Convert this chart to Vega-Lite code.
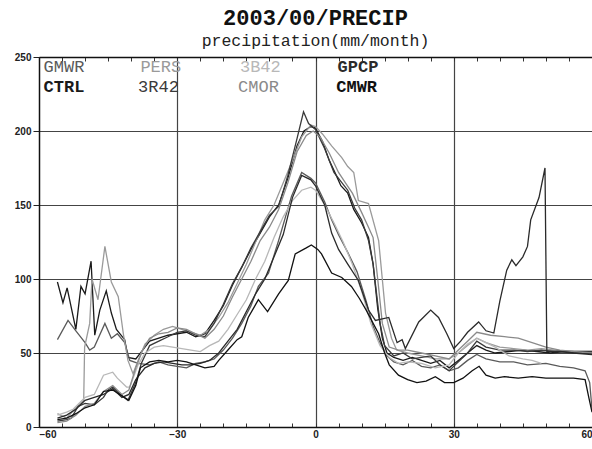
{
"$schema":"https://vega.github.io/schema/vega-lite/v6.json",
"width":553,"height":370,
"autosize":{"type":"none"},
"padding":{"left":39,"top":57,"right":0,"bottom":22},
"background":"white",
"title":{"text":"2003/00/PRECIP","subtitle":"precipitation(mm/month)","font":"Liberation Mono","fontSize":22,"fontWeight":"bold","color":"#111","subtitleFont":"Liberation Mono","subtitleFontSize":16.5,"subtitleColor":"#222","anchor":"middle","offset":2,"subtitlePadding":3},
"config":{"view":{"stroke":null}},
"datasets":{
"lines":[
{"s":"CTRL","x":-56,"y":98},{"s":"CTRL","x":-54.8,"y":84},{"s":"CTRL","x":-53.9,"y":94},{"s":"CTRL","x":-52,"y":66},{"s":"CTRL","x":-50.9,"y":95},{"s":"CTRL","x":-50,"y":90},{"s":"CTRL","x":-48.7,"y":112},{"s":"CTRL","x":-47.9,"y":62},{"s":"CTRL","x":-46.8,"y":79},{"s":"CTRL","x":-45.4,"y":92},{"s":"CTRL","x":-44.3,"y":77},{"s":"CTRL","x":-43.2,"y":66},{"s":"CTRL","x":-41.4,"y":59},{"s":"CTRL","x":-40.7,"y":47},{"s":"CTRL","x":-39,"y":46},{"s":"CTRL","x":-37.5,"y":52},{"s":"CTRL","x":-36,"y":58},{"s":"CTRL","x":-34,"y":60},{"s":"CTRL","x":-32,"y":62},{"s":"CTRL","x":-30,"y":63},{"s":"CTRL","x":-28,"y":64},{"s":"CTRL","x":-26,"y":61},{"s":"CTRL","x":-24,"y":63},{"s":"CTRL","x":-22,"y":72},{"s":"CTRL","x":-20,"y":82},{"s":"CTRL","x":-18,"y":96},{"s":"CTRL","x":-16,"y":108},{"s":"CTRL","x":-14,"y":120},{"s":"CTRL","x":-12,"y":131},{"s":"CTRL","x":-10,"y":142},{"s":"CTRL","x":-8,"y":150},{"s":"CTRL","x":-6,"y":168},{"s":"CTRL","x":-4,"y":190},{"s":"CTRL","x":-2.5,"y":200},{"s":"CTRL","x":-1,"y":203},{"s":"CTRL","x":0,"y":202},{"s":"CTRL","x":1.5,"y":193},{"s":"CTRL","x":3,"y":180},{"s":"CTRL","x":4.5,"y":170},{"s":"CTRL","x":5.5,"y":163},{"s":"CTRL","x":7,"y":158},{"s":"CTRL","x":8.3,"y":147},{"s":"CTRL","x":10,"y":138},{"s":"CTRL","x":11.5,"y":128},{"s":"CTRL","x":12.5,"y":110},{"s":"CTRL","x":13.5,"y":80},{"s":"CTRL","x":14.5,"y":60},{"s":"CTRL","x":15.5,"y":50},{"s":"CTRL","x":17,"y":47},{"s":"CTRL","x":19,"y":45},{"s":"CTRL","x":21,"y":47},{"s":"CTRL","x":23,"y":45},{"s":"CTRL","x":25,"y":43},{"s":"CTRL","x":27,"y":45},{"s":"CTRL","x":29,"y":40},{"s":"CTRL","x":31,"y":45},{"s":"CTRL","x":33,"y":50},{"s":"CTRL","x":35,"y":55},{"s":"CTRL","x":37,"y":52},{"s":"CTRL","x":39,"y":50},{"s":"CTRL","x":42,"y":51},{"s":"CTRL","x":45,"y":52},{"s":"CTRL","x":48,"y":51},{"s":"CTRL","x":51,"y":50},{"s":"CTRL","x":54,"y":51},{"s":"CTRL","x":57,"y":50},{"s":"CTRL","x":60,"y":50},
{"s":"GMWR","x":-56,"y":59},{"s":"GMWR","x":-53.7,"y":72},{"s":"GMWR","x":-52,"y":65},{"s":"GMWR","x":-50,"y":57},{"s":"GMWR","x":-49,"y":52},{"s":"GMWR","x":-48,"y":54},{"s":"GMWR","x":-45.7,"y":70},{"s":"GMWR","x":-44.3,"y":60},{"s":"GMWR","x":-43,"y":63},{"s":"GMWR","x":-41.4,"y":57},{"s":"GMWR","x":-40.3,"y":45},{"s":"GMWR","x":-38.5,"y":43},{"s":"GMWR","x":-36,"y":42},{"s":"GMWR","x":-34,"y":44},{"s":"GMWR","x":-32,"y":42},{"s":"GMWR","x":-30,"y":41},{"s":"GMWR","x":-28,"y":40},{"s":"GMWR","x":-26,"y":43},{"s":"GMWR","x":-24,"y":44},{"s":"GMWR","x":-22,"y":46},{"s":"GMWR","x":-20,"y":52},{"s":"GMWR","x":-18,"y":60},{"s":"GMWR","x":-16,"y":70},{"s":"GMWR","x":-14,"y":82},{"s":"GMWR","x":-12.4,"y":95},{"s":"GMWR","x":-10.2,"y":104},{"s":"GMWR","x":-8,"y":126},{"s":"GMWR","x":-5.2,"y":156},{"s":"GMWR","x":-3,"y":172},{"s":"GMWR","x":-1,"y":168},{"s":"GMWR","x":0,"y":165},{"s":"GMWR","x":2,"y":152},{"s":"GMWR","x":3.5,"y":140},{"s":"GMWR","x":5,"y":130},{"s":"GMWR","x":7,"y":118},{"s":"GMWR","x":9,"y":105},{"s":"GMWR","x":11,"y":85},{"s":"GMWR","x":12.5,"y":68},{"s":"GMWR","x":14,"y":57},{"s":"GMWR","x":15.5,"y":48},{"s":"GMWR","x":17,"y":44},{"s":"GMWR","x":19,"y":42},{"s":"GMWR","x":21,"y":45},{"s":"GMWR","x":23,"y":41},{"s":"GMWR","x":25,"y":40},{"s":"GMWR","x":27,"y":42},{"s":"GMWR","x":29,"y":38},{"s":"GMWR","x":31,"y":40},{"s":"GMWR","x":33,"y":45},{"s":"GMWR","x":35,"y":49},{"s":"GMWR","x":37,"y":46},{"s":"GMWR","x":40,"y":44},{"s":"GMWR","x":43,"y":44},{"s":"GMWR","x":46,"y":42},{"s":"GMWR","x":50,"y":43},{"s":"GMWR","x":53,"y":41},{"s":"GMWR","x":56,"y":40},{"s":"GMWR","x":58.5,"y":38},{"s":"GMWR","x":59.5,"y":30},{"s":"GMWR","x":60,"y":12},
{"s":"PERS","x":-56,"y":9},{"s":"PERS","x":-54,"y":6},{"s":"PERS","x":-52.6,"y":11},{"s":"PERS","x":-51,"y":16},{"s":"PERS","x":-50.3,"y":18},{"s":"PERS","x":-50.1,"y":54},{"s":"PERS","x":-49,"y":70},{"s":"PERS","x":-48.5,"y":100},{"s":"PERS","x":-47.2,"y":86},{"s":"PERS","x":-45.7,"y":122},{"s":"PERS","x":-44.3,"y":98},{"s":"PERS","x":-42.8,"y":88},{"s":"PERS","x":-41.7,"y":63},{"s":"PERS","x":-40.7,"y":45},{"s":"PERS","x":-39.6,"y":36},{"s":"PERS","x":-38.5,"y":45},{"s":"PERS","x":-37,"y":56},{"s":"PERS","x":-35,"y":62},{"s":"PERS","x":-33,"y":66},{"s":"PERS","x":-31,"y":68},{"s":"PERS","x":-29,"y":66},{"s":"PERS","x":-27,"y":64},{"s":"PERS","x":-25,"y":62},{"s":"PERS","x":-23,"y":66},{"s":"PERS","x":-21,"y":74},{"s":"PERS","x":-19,"y":84},{"s":"PERS","x":-17,"y":97},{"s":"PERS","x":-15,"y":110},{"s":"PERS","x":-13,"y":125},{"s":"PERS","x":-11,"y":140},{"s":"PERS","x":-9,"y":150},{"s":"PERS","x":-7,"y":165},{"s":"PERS","x":-5,"y":180},{"s":"PERS","x":-3,"y":196},{"s":"PERS","x":-1,"y":204},{"s":"PERS","x":0,"y":203},{"s":"PERS","x":1.5,"y":198},{"s":"PERS","x":3.5,"y":190},{"s":"PERS","x":5.7,"y":182},{"s":"PERS","x":7,"y":176},{"s":"PERS","x":8.3,"y":172},{"s":"PERS","x":9.3,"y":153},{"s":"PERS","x":11.5,"y":151},{"s":"PERS","x":13.7,"y":126},{"s":"PERS","x":15.2,"y":77},{"s":"PERS","x":16.5,"y":60},{"s":"PERS","x":17.6,"y":52},{"s":"PERS","x":20,"y":50},{"s":"PERS","x":23,"y":48},{"s":"PERS","x":26,"y":46},{"s":"PERS","x":29,"y":46},{"s":"PERS","x":31,"y":50},{"s":"PERS","x":33,"y":55},{"s":"PERS","x":35,"y":60},{"s":"PERS","x":37,"y":57},{"s":"PERS","x":40,"y":54},{"s":"PERS","x":43,"y":53},{"s":"PERS","x":46,"y":52},{"s":"PERS","x":49,"y":53},{"s":"PERS","x":52,"y":52},{"s":"PERS","x":55,"y":51},{"s":"PERS","x":60,"y":51},
{"s":"3R42","x":-56,"y":4},{"s":"3R42","x":-54,"y":5},{"s":"3R42","x":-53,"y":6},{"s":"3R42","x":-51.5,"y":14},{"s":"3R42","x":-50,"y":16},{"s":"3R42","x":-48,"y":15},{"s":"3R42","x":-46,"y":20},{"s":"3R42","x":-45,"y":25},{"s":"3R42","x":-44,"y":27},{"s":"3R42","x":-43,"y":24},{"s":"3R42","x":-41.5,"y":20},{"s":"3R42","x":-40.7,"y":18},{"s":"3R42","x":-39,"y":30},{"s":"3R42","x":-37.8,"y":43},{"s":"3R42","x":-36,"y":55},{"s":"3R42","x":-34,"y":58},{"s":"3R42","x":-32,"y":61},{"s":"3R42","x":-30,"y":64},{"s":"3R42","x":-28,"y":65},{"s":"3R42","x":-26,"y":62},{"s":"3R42","x":-24,"y":61},{"s":"3R42","x":-22,"y":70},{"s":"3R42","x":-20,"y":83},{"s":"3R42","x":-18,"y":97},{"s":"3R42","x":-16,"y":108},{"s":"3R42","x":-14,"y":121},{"s":"3R42","x":-12,"y":132},{"s":"3R42","x":-10,"y":143},{"s":"3R42","x":-8,"y":149},{"s":"3R42","x":-6,"y":170},{"s":"3R42","x":-4,"y":195},{"s":"3R42","x":-2.6,"y":213},{"s":"3R42","x":-1.5,"y":205},{"s":"3R42","x":0,"y":201},{"s":"3R42","x":2,"y":188},{"s":"3R42","x":4,"y":172},{"s":"3R42","x":5.5,"y":166},{"s":"3R42","x":7,"y":160},{"s":"3R42","x":8.5,"y":148},{"s":"3R42","x":10,"y":140},{"s":"3R42","x":11.5,"y":126},{"s":"3R42","x":12.5,"y":110},{"s":"3R42","x":14,"y":70},{"s":"3R42","x":15,"y":55},{"s":"3R42","x":17,"y":48},{"s":"3R42","x":19,"y":50},{"s":"3R42","x":21,"y":46},{"s":"3R42","x":23,"y":47},{"s":"3R42","x":25,"y":48},{"s":"3R42","x":27,"y":42},{"s":"3R42","x":29,"y":38},{"s":"3R42","x":31,"y":44},{"s":"3R42","x":33,"y":50},{"s":"3R42","x":35,"y":58},{"s":"3R42","x":37,"y":54},{"s":"3R42","x":40,"y":52},{"s":"3R42","x":43,"y":52},{"s":"3R42","x":46,"y":51},{"s":"3R42","x":49,"y":52},{"s":"3R42","x":52,"y":51},{"s":"3R42","x":55,"y":51},{"s":"3R42","x":58,"y":51},{"s":"3R42","x":60,"y":51},
{"s":"3B42","x":-56,"y":8},{"s":"3B42","x":-54,"y":10},{"s":"3B42","x":-52.6,"y":12},{"s":"3B42","x":-50,"y":20},{"s":"3B42","x":-48,"y":22},{"s":"3B42","x":-46,"y":35},{"s":"3B42","x":-44,"y":37},{"s":"3B42","x":-43,"y":33},{"s":"3B42","x":-41,"y":27},{"s":"3B42","x":-40.3,"y":27},{"s":"3B42","x":-38.5,"y":42},{"s":"3B42","x":-37,"y":50},{"s":"3B42","x":-35,"y":54},{"s":"3B42","x":-33,"y":55},{"s":"3B42","x":-31,"y":54},{"s":"3B42","x":-29,"y":53},{"s":"3B42","x":-27,"y":52},{"s":"3B42","x":-25,"y":51},{"s":"3B42","x":-23,"y":55},{"s":"3B42","x":-21,"y":58},{"s":"3B42","x":-19,"y":66},{"s":"3B42","x":-17,"y":76},{"s":"3B42","x":-15,"y":86},{"s":"3B42","x":-13,"y":100},{"s":"3B42","x":-11,"y":112},{"s":"3B42","x":-9,"y":128},{"s":"3B42","x":-7,"y":142},{"s":"3B42","x":-5,"y":153},{"s":"3B42","x":-3,"y":160},{"s":"3B42","x":-1,"y":162},{"s":"3B42","x":0,"y":160},{"s":"3B42","x":2,"y":150},{"s":"3B42","x":4,"y":138},{"s":"3B42","x":6,"y":125},{"s":"3B42","x":8,"y":110},{"s":"3B42","x":10,"y":92},{"s":"3B42","x":12,"y":70},{"s":"3B42","x":14,"y":55},{"s":"3B42","x":16,"y":47},{"s":"3B42","x":18,"y":43},{"s":"3B42","x":20,"y":44},{"s":"3B42","x":23,"y":43},{"s":"3B42","x":26,"y":40},{"s":"3B42","x":29,"y":42},{"s":"3B42","x":31,"y":50},{"s":"3B42","x":33,"y":56},{"s":"3B42","x":35,"y":60},{"s":"3B42","x":37,"y":57},{"s":"3B42","x":39,"y":54},{"s":"3B42","x":42,"y":48},{"s":"3B42","x":45,"y":46},{"s":"3B42","x":47,"y":45},{"s":"3B42","x":49,"y":43},
{"s":"CMOR","x":-56,"y":3},{"s":"CMOR","x":-54,"y":4},{"s":"CMOR","x":-52,"y":8},{"s":"CMOR","x":-50,"y":14},{"s":"CMOR","x":-48,"y":16},{"s":"CMOR","x":-46,"y":24},{"s":"CMOR","x":-44,"y":28},{"s":"CMOR","x":-42,"y":22},{"s":"CMOR","x":-40.5,"y":25},{"s":"CMOR","x":-39,"y":40},{"s":"CMOR","x":-37.5,"y":52},{"s":"CMOR","x":-36,"y":60},{"s":"CMOR","x":-34,"y":63},{"s":"CMOR","x":-32,"y":64},{"s":"CMOR","x":-30,"y":67},{"s":"CMOR","x":-28,"y":66},{"s":"CMOR","x":-26,"y":63},{"s":"CMOR","x":-24,"y":60},{"s":"CMOR","x":-22,"y":66},{"s":"CMOR","x":-20,"y":75},{"s":"CMOR","x":-18,"y":88},{"s":"CMOR","x":-16,"y":100},{"s":"CMOR","x":-14,"y":112},{"s":"CMOR","x":-12,"y":126},{"s":"CMOR","x":-10,"y":135},{"s":"CMOR","x":-8,"y":147},{"s":"CMOR","x":-6,"y":165},{"s":"CMOR","x":-4,"y":186},{"s":"CMOR","x":-2,"y":197},{"s":"CMOR","x":-0.5,"y":200},{"s":"CMOR","x":1,"y":196},{"s":"CMOR","x":3,"y":185},{"s":"CMOR","x":5,"y":172},{"s":"CMOR","x":6.5,"y":165},{"s":"CMOR","x":8,"y":158},{"s":"CMOR","x":10,"y":145},{"s":"CMOR","x":11.5,"y":135},{"s":"CMOR","x":12.5,"y":128},{"s":"CMOR","x":13.5,"y":100},{"s":"CMOR","x":14.5,"y":70},{"s":"CMOR","x":16,"y":54},{"s":"CMOR","x":18,"y":52},{"s":"CMOR","x":20,"y":52},{"s":"CMOR","x":23,"y":50},{"s":"CMOR","x":26,"y":48},{"s":"CMOR","x":29,"y":46},{"s":"CMOR","x":31,"y":52},{"s":"CMOR","x":33,"y":58},{"s":"CMOR","x":35,"y":64},{"s":"CMOR","x":38,"y":62},{"s":"CMOR","x":41,"y":61},{"s":"CMOR","x":44,"y":60},{"s":"CMOR","x":47,"y":57},{"s":"CMOR","x":50,"y":54},{"s":"CMOR","x":53,"y":52},{"s":"CMOR","x":56,"y":51},{"s":"CMOR","x":60,"y":50},
{"s":"GPCP","x":-56,"y":6},{"s":"GPCP","x":-54,"y":8},{"s":"GPCP","x":-52,"y":12},{"s":"GPCP","x":-50,"y":18},{"s":"GPCP","x":-48,"y":20},{"s":"GPCP","x":-46,"y":22},{"s":"GPCP","x":-44,"y":26},{"s":"GPCP","x":-42,"y":20},{"s":"GPCP","x":-40.5,"y":22},{"s":"GPCP","x":-39,"y":32},{"s":"GPCP","x":-37,"y":40},{"s":"GPCP","x":-35,"y":43},{"s":"GPCP","x":-33,"y":44},{"s":"GPCP","x":-31,"y":43},{"s":"GPCP","x":-29,"y":42},{"s":"GPCP","x":-27,"y":42},{"s":"GPCP","x":-25,"y":43},{"s":"GPCP","x":-23,"y":45},{"s":"GPCP","x":-21,"y":50},{"s":"GPCP","x":-19,"y":58},{"s":"GPCP","x":-17,"y":66},{"s":"GPCP","x":-15,"y":78},{"s":"GPCP","x":-13,"y":90},{"s":"GPCP","x":-11,"y":100},{"s":"GPCP","x":-9,"y":115},{"s":"GPCP","x":-7,"y":130},{"s":"GPCP","x":-5,"y":155},{"s":"GPCP","x":-3,"y":170},{"s":"GPCP","x":-1,"y":167},{"s":"GPCP","x":0,"y":163},{"s":"GPCP","x":2,"y":150},{"s":"GPCP","x":3.5,"y":131},{"s":"GPCP","x":5,"y":120},{"s":"GPCP","x":7,"y":110},{"s":"GPCP","x":9.3,"y":99},{"s":"GPCP","x":11.5,"y":79},{"s":"GPCP","x":13,"y":72},{"s":"GPCP","x":14.5,"y":73},{"s":"GPCP","x":15.9,"y":74},{"s":"GPCP","x":17.7,"y":57},{"s":"GPCP","x":18.8,"y":59},{"s":"GPCP","x":19.5,"y":53},{"s":"GPCP","x":22.4,"y":71},{"s":"GPCP","x":25,"y":79},{"s":"GPCP","x":26.7,"y":74},{"s":"GPCP","x":28.5,"y":63},{"s":"GPCP","x":30,"y":53},{"s":"GPCP","x":31.5,"y":58},{"s":"GPCP","x":33,"y":64},{"s":"GPCP","x":35.4,"y":71},{"s":"GPCP","x":37,"y":65},{"s":"GPCP","x":38.7,"y":63.5},{"s":"GPCP","x":40,"y":85},{"s":"GPCP","x":41.5,"y":106},{"s":"GPCP","x":42.6,"y":113},{"s":"GPCP","x":43.5,"y":109},{"s":"GPCP","x":45,"y":115},{"s":"GPCP","x":46,"y":122},{"s":"GPCP","x":46.7,"y":140},{"s":"GPCP","x":48.5,"y":155},{"s":"GPCP","x":49.8,"y":175},{"s":"GPCP","x":50.2,"y":51},{"s":"GPCP","x":53,"y":51},{"s":"GPCP","x":56,"y":50},{"s":"GPCP","x":60,"y":49},
{"s":"CMWR","x":-56,"y":5},{"s":"CMWR","x":-54,"y":6},{"s":"CMWR","x":-52,"y":9},{"s":"CMWR","x":-50,"y":13},{"s":"CMWR","x":-48,"y":15},{"s":"CMWR","x":-46,"y":24},{"s":"CMWR","x":-44,"y":25},{"s":"CMWR","x":-43,"y":23},{"s":"CMWR","x":-41,"y":19},{"s":"CMWR","x":-40.5,"y":18},{"s":"CMWR","x":-39,"y":28},{"s":"CMWR","x":-38,"y":40},{"s":"CMWR","x":-36,"y":44},{"s":"CMWR","x":-34,"y":45},{"s":"CMWR","x":-32,"y":44},{"s":"CMWR","x":-30,"y":45},{"s":"CMWR","x":-28,"y":44},{"s":"CMWR","x":-26,"y":42},{"s":"CMWR","x":-24,"y":40},{"s":"CMWR","x":-22,"y":41},{"s":"CMWR","x":-21,"y":45},{"s":"CMWR","x":-19,"y":52},{"s":"CMWR","x":-17,"y":59},{"s":"CMWR","x":-16,"y":61},{"s":"CMWR","x":-14.6,"y":74},{"s":"CMWR","x":-12.4,"y":86},{"s":"CMWR","x":-10.4,"y":78},{"s":"CMWR","x":-8,"y":90},{"s":"CMWR","x":-5.9,"y":99},{"s":"CMWR","x":-4.4,"y":117},{"s":"CMWR","x":-2,"y":121},{"s":"CMWR","x":-0.9,"y":123},{"s":"CMWR","x":0.5,"y":120},{"s":"CMWR","x":1.3,"y":117},{"s":"CMWR","x":3.5,"y":104},{"s":"CMWR","x":5.7,"y":101},{"s":"CMWR","x":7.8,"y":95},{"s":"CMWR","x":9.5,"y":87},{"s":"CMWR","x":11,"y":79},{"s":"CMWR","x":13.7,"y":63},{"s":"CMWR","x":15,"y":50},{"s":"CMWR","x":16,"y":42},{"s":"CMWR","x":18,"y":35},{"s":"CMWR","x":20,"y":32},{"s":"CMWR","x":22,"y":30},{"s":"CMWR","x":24,"y":31},{"s":"CMWR","x":26,"y":34},{"s":"CMWR","x":28,"y":30},{"s":"CMWR","x":30,"y":30},{"s":"CMWR","x":32,"y":33},{"s":"CMWR","x":34,"y":38},{"s":"CMWR","x":35.5,"y":41},{"s":"CMWR","x":37,"y":35},{"s":"CMWR","x":39,"y":33},{"s":"CMWR","x":41,"y":34},{"s":"CMWR","x":44,"y":33},{"s":"CMWR","x":47,"y":34},{"s":"CMWR","x":50,"y":33},{"s":"CMWR","x":53,"y":33},{"s":"CMWR","x":56,"y":33},{"s":"CMWR","x":58.5,"y":32},{"s":"CMWR","x":59.3,"y":20},{"s":"CMWR","x":60,"y":10}
],
"labels":[
{"s":"GMWR","x":-59,"y":243.5},{"s":"CTRL","x":-59,"y":230},
{"s":"PERS","x":-38,"y":243.5},{"s":"3R42","x":-38.5,"y":230},
{"s":"3B42","x":-16.4,"y":243.5},{"s":"CMOR","x":-16.8,"y":230},
{"s":"GPCP","x":4.8,"y":243.5},{"s":"CMWR","x":4.5,"y":230}
]},
"resolve":{"axis":{"x":"independent"}},
"layer":[
{"data":{"name":"lines"},
 "mark":{"type":"line","strokeWidth":1.3,"interpolate":"linear"},
 "encoding":{
  "x":{"field":"x","type":"quantitative","scale":{"domain":[-60,60],"nice":false,"zero":false},
   "axis":{"orient":"bottom","title":null,"values":[-60,-55,-50,-45,-40,-35,-30,-25,-20,-15,-10,-5,0,5,10,15,20,25,30,35,40,45,50,55,60],
    "labelExpr":"datum.value % 30 === 0 ? datum.label : ''","labelFont":"Liberation Sans","labelFontSize":10,"labelFontWeight":"bold","labelColor":"#222","labelPadding":6,
    "tickSize":-4,"tickColor":"#333","domainColor":"#111","domainWidth":1.5,
    "grid":true,"gridColor":"#444","gridWidth":1.2,
    "gridOpacity":{"condition":{"test":"datum.value === 30 || datum.value === -30 || datum.value === 0","value":1},"value":0}}},
  "y":{"field":"y","type":"quantitative","scale":{"domain":[0,250],"nice":false},
   "axis":{"title":null,"values":[0,50,100,150,200,250],"labelFont":"Liberation Sans","labelFontSize":10,"labelFontWeight":"bold","labelColor":"#222","labelPadding":2,
    "tickSize":6,"tickColor":"#222","domainColor":"#111","domainWidth":1.5,"grid":true,"gridColor":"#444","gridWidth":1.2}},
  "color":{"field":"s","type":"nominal","legend":null,
   "scale":{"domain":["GMWR","CTRL","PERS","3R42","3B42","CMOR","GPCP","CMWR"],"range":["#5a5a5a","#1a1a1a","#9a9a9a","#3a3a3a","#b8b8b8","#8a8a8a","#2a2a2a","#111111"]}}
 }},
{"data":{"name":"labels"},
 "transform":[{"filter":"datum.s !== 'CTRL' && datum.s !== 'GPCP' && datum.s !== 'CMWR'"}],
 "mark":{"type":"text","align":"left","baseline":"middle","font":"Liberation Mono","fontSize":17},
 "encoding":{
  "x":{"field":"x","type":"quantitative","scale":{"domain":[-60,60],"nice":false,"zero":false},
   "axis":{"orient":"top","title":null,"labels":false,"values":[-60,-55,-50,-45,-40,-35,-30,-25,-20,-15,-10,-5,0,5,10,15,20,25,30,35,40,45,50,55,60],"tickSize":-4,"tickColor":"#333","domainColor":"#111","domainWidth":1.5,"grid":false}},
  "y":{"field":"y","type":"quantitative"},
  "text":{"field":"s"},
  "color":{"field":"s","type":"nominal","legend":null}
 }},
{"data":{"name":"labels"},
 "transform":[{"filter":"datum.s === 'CTRL' || datum.s === 'GPCP' || datum.s === 'CMWR'"}],
 "mark":{"type":"text","align":"left","baseline":"middle","font":"Liberation Mono","fontSize":17,"fontWeight":"bold"},
 "encoding":{
  "x":{"field":"x","type":"quantitative","axis":null},
  "y":{"field":"y","type":"quantitative"},
  "text":{"field":"s"},
  "color":{"field":"s","type":"nominal","legend":null}
 }}
]
}
